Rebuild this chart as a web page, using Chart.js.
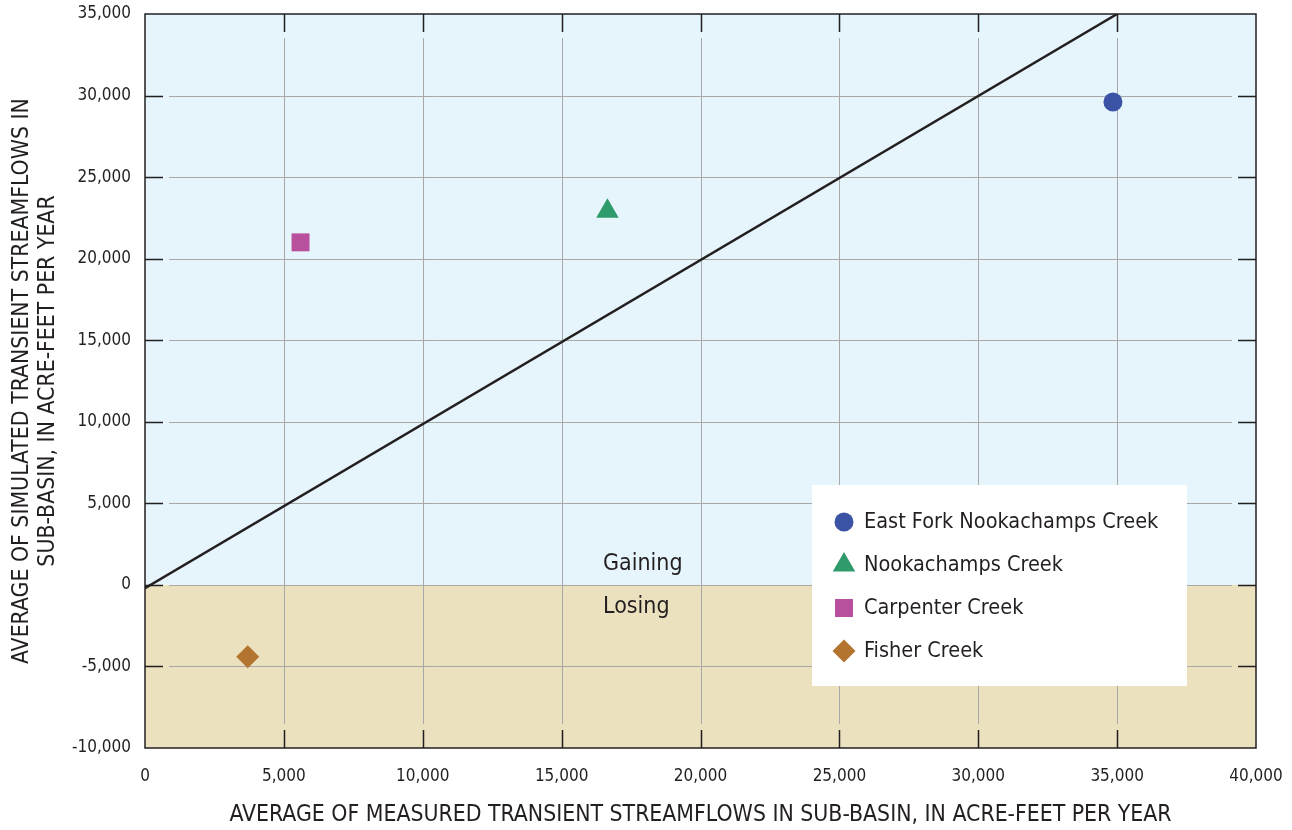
<!DOCTYPE html>
<html>
<head>
<meta charset="utf-8">
<script src="https://cdn.jsdelivr.net/npm/chart.js@4.4.0/dist/chart.umd.min.js"></script>
<style>
  body { margin: 0; background: #fff; }
  canvas { display: block; }
</style>
</head>
<body>
<canvas id="flowChart" width="1292" height="830"></canvas>
<script>
// Sub-basin averages (acre-feet per year)
const creekNames = ['East Fork Nookachamps Creek', 'Nookachamps Creek', 'Carpenter Creek', 'Fisher Creek'];
const measuredFlow = [34850, 16650, 5600, 3700];
const simulatedFlow = [29600, 22900, 21000, -4400];
const creekColors = ['#3a53a4', '#2f9a6a', '#b8509d', '#b2742e'];
const creekShapes = ['circle', 'triangle', 'rect', 'rectRot'];
const creekRadius = [9.5, 13, 12.7, 11.5];

// 1:1 reference line
const oneToOneX = [0, 35000];
const oneToOneY = [-200, 35000];

const xTicks = [0, 5000, 10000, 15000, 20000, 25000, 30000, 35000, 40000];
const yTicks = [-10000, -5000, 0, 5000, 10000, 15000, 20000, 25000, 30000, 35000];

const fontFamily = '"DejaVu Sans Condensed", "Liberation Sans Narrow", sans-serif';
const textColor = '#231f20';

let datasets = creekNames.map(function (name, i) {
    return {
        label: name,
        type: 'scatter',
        data: [{x: measuredFlow[i], y: simulatedFlow[i]}],
        backgroundColor: creekColors[i],
        borderColor: creekColors[i],
        borderWidth: 0,
        pointStyle: creekShapes[i],
        pointRadius: creekRadius[i],
        pointHoverRadius: creekRadius[i],
    };
});
datasets.push({
    label: 'one-to-one',
    type: 'line',
    data: oneToOneX.map(function (x, i) { return {x: x, y: oneToOneY[i]}; }),
    borderColor: '#231f20',
    borderWidth: 2.5,
    pointRadius: 0,
    fill: false,
});

function drawShape(ctx, style, r, x, y, color) {
    ctx.save();
    ctx.fillStyle = color;
    ctx.beginPath();
    if (style === 'circle') {
        ctx.arc(x, y, r, 0, Math.PI * 2);
    } else if (style === 'triangle') {
        ctx.moveTo(x, y - r);
        ctx.lineTo(x + r * Math.sin(Math.PI / 3), y + r / 2);
        ctx.lineTo(x - r * Math.sin(Math.PI / 3), y + r / 2);
        ctx.closePath();
    } else if (style === 'rect') {
        let s = r * Math.SQRT1_2;
        ctx.rect(x - s, y - s, 2 * s, 2 * s);
    } else {
        ctx.moveTo(x, y - r);
        ctx.lineTo(x + r, y);
        ctx.lineTo(x, y + r);
        ctx.lineTo(x - r, y);
        ctx.closePath();
    }
    ctx.fill();
    ctx.restore();
}

// backgrounds, grid with inner ticks, frame
const backdropPlugin = {
    id: 'backdrop',
    beforeDatasetsDraw(chart) {
        const {ctx, chartArea: a, scales: {x, y}} = chart;
        const y0 = y.getPixelForValue(0);
        ctx.save();
        ctx.fillStyle = '#e6f5fc';
        ctx.fillRect(a.left, a.top, a.right - a.left, y0 - a.top);
        ctx.fillStyle = '#ebe1bf';
        ctx.fillRect(a.left, y0, a.right - a.left, a.bottom - y0);

        const tick = 18, gap = 6;
        ctx.lineWidth = 1;
        ctx.strokeStyle = '#a8a8a8';
        xTicks.slice(1, -1).forEach(function (v) {
            const px = Math.round(x.getPixelForValue(v)) + 0.5;
            ctx.beginPath();
            ctx.moveTo(px, a.top + tick + gap);
            ctx.lineTo(px, a.bottom - tick - gap);
            ctx.stroke();
        });
        yTicks.slice(1, -1).forEach(function (v) {
            const py = Math.round(y.getPixelForValue(v)) + 0.5;
            ctx.beginPath();
            ctx.moveTo(a.left + tick + gap, py);
            ctx.lineTo(a.right - tick - gap, py);
            ctx.stroke();
        });

        ctx.strokeStyle = '#231f20';
        ctx.lineWidth = 1.5;
        xTicks.slice(1, -1).forEach(function (v) {
            const px = Math.round(x.getPixelForValue(v)) + 0.5;
            ctx.beginPath();
            ctx.moveTo(px, a.top); ctx.lineTo(px, a.top + tick);
            ctx.moveTo(px, a.bottom); ctx.lineTo(px, a.bottom - tick);
            ctx.stroke();
        });
        yTicks.slice(1, -1).forEach(function (v) {
            const py = Math.round(y.getPixelForValue(v)) + 0.5;
            ctx.beginPath();
            ctx.moveTo(a.left, py); ctx.lineTo(a.left + tick, py);
            ctx.moveTo(a.right, py); ctx.lineTo(a.right - tick, py);
            ctx.stroke();
        });

        ctx.fillStyle = textColor;
        ctx.font = '23px ' + fontFamily;
        ctx.textAlign = 'left';
        ctx.textBaseline = 'alphabetic';
        ctx.fillText('Gaining', x.getPixelForValue(16490), y.getPixelForValue(930));
        ctx.fillText('Losing', x.getPixelForValue(16490), y.getPixelForValue(-1750));
        ctx.restore();
    },
    afterDraw(chart) {
        const {ctx, chartArea: a} = chart;
        ctx.save();
        ctx.strokeStyle = '#231f20';
        ctx.lineWidth = 1.5;
        ctx.strokeRect(a.left, a.top, a.right - a.left, a.bottom - a.top);

        // legend box
        const bx = a.left + 667, by = a.top + 471, bw = 375, bh = 201;
        ctx.fillStyle = '#ffffff';
        ctx.fillRect(bx, by, bw, bh);
        ctx.font = '21.5px ' + fontFamily;
        ctx.textBaseline = 'middle';
        ctx.textAlign = 'left';
        creekNames.forEach(function (name, i) {
            const cy = by + 37 + i * 43;
            drawShape(ctx, creekShapes[i], creekRadius[i], bx + 32, cy, creekColors[i]);
            ctx.fillStyle = textColor;
            ctx.fillText(name, bx + 52, cy);
        });
        ctx.restore();
    }
};

const config = {
    type: 'scatter',
    data: {datasets: datasets},
    options: {
        responsive: false,
        animation: false,
        layout: {padding: {top: 14, right: 36, left: 0, bottom: 0}},
        plugins: {
            legend: {display: false},
            tooltip: {enabled: false},
        },
        scales: {
            x: {
                type: 'linear',
                min: 0,
                max: 40000,
                afterBuildTicks: function (scale) { scale.ticks = xTicks.map(function (v) { return {value: v}; }); },
                afterFit: function (scale) {
                    scale.height = 82;
                    scale.paddingLeft = 0;
                    scale.paddingRight = 0;
                },
                grid: {display: false, drawTicks: false},
                border: {display: false},
                ticks: {
                    color: textColor,
                    padding: 18,
                    maxRotation: 0,
                    font: {family: fontFamily, size: 17},
                    callback: function (v) { return v.toLocaleString('en-US'); },
                },
                title: {
                    display: true,
                    text: 'AVERAGE OF MEASURED TRANSIENT STREAMFLOWS IN SUB-BASIN, IN ACRE-FEET PER YEAR',
                    color: textColor,
                    font: {family: fontFamily, size: 22.8, lineHeight: 1.14},
                    padding: {top: 0, bottom: 2},
                },
            },
            y: {
                type: 'linear',
                min: -10000,
                max: 35000,
                afterBuildTicks: function (scale) { scale.ticks = yTicks.map(function (v) { return {value: v}; }); },
                afterFit: function (scale) {
                    scale.width = 145;
                    scale.paddingTop = 0;
                    scale.paddingBottom = 0;
                },
                grid: {display: false, drawTicks: false},
                border: {display: false},
                ticks: {
                    color: textColor,
                    padding: 14,
                    font: {family: fontFamily, size: 17},
                    callback: function (v) { return v.toLocaleString('en-US'); },
                },
                title: {
                    display: true,
                    text: ['AVERAGE OF SIMULATED TRANSIENT STREAMFLOWS IN', 'SUB-BASIN, IN ACRE-FEET PER YEAR'],
                    color: textColor,
                    font: {family: fontFamily, size: 22.8, lineHeight: 1.14},
                    padding: {top: 9, bottom: 0},
                },
            },
        },
    },
    plugins: [backdropPlugin],
};

new Chart(document.getElementById('flowChart').getContext('2d'), config);
</script>
</body>
</html>
